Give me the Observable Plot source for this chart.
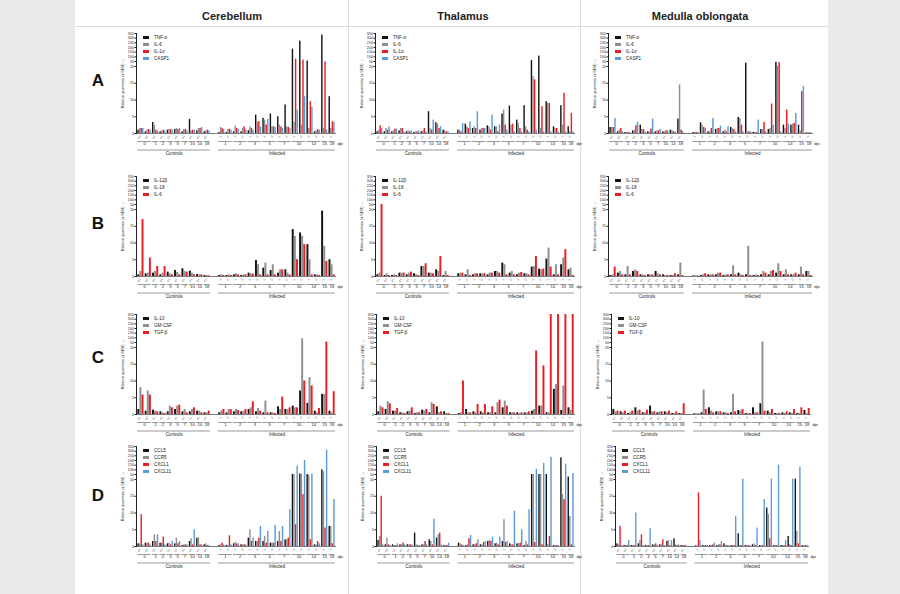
<!DOCTYPE html>
<html><head><meta charset="utf-8">
<script src="https://cdn.jsdelivr.net/npm/d3@7"></script>
<script src="https://cdn.jsdelivr.net/npm/@observablehq/plot@0.6"></script>
<style>
body{margin:0;background:#eaeaea;width:900px;height:594px;overflow:hidden;position:relative;font-family:"Liberation Sans",Arial,sans-serif}
#fig{position:absolute;left:75px;top:0;width:753px;height:594px;background:#fff}
.vline{position:absolute;top:0;width:1px;height:594px;background:#dcdcdc}
.hline{position:absolute;left:75px;top:26px;width:753px;height:1px;background:#dcdcdc}
.title{position:absolute;top:10px;font-weight:bold;font-size:11px;width:200px;text-align:center;color:#222}
.row{position:absolute;font-weight:bold;font-size:17px;color:#111;transform:translate(-50%,-50%)}
.panel{position:absolute}
.legend{position:absolute;font-size:4.6px;color:#222}
.legend div{display:flex;align-items:center;height:7px}
.sw{width:6px;height:3px;margin-right:5px}
</style></head><body>
<div id="fig"></div>
<div class="vline" style="left:348px"></div>
<div class="vline" style="left:580px"></div>
<div class="hline"></div>
<script>
// ---- sample structure ----
const sampleLabels = ["c1","c2","c1","c1","c1","c1","c1","c1","c1","c1",
  "i1","i2","i1","i2","i1","i2","i1","i2","i1","i2","i1","i2","i1","i2","i1","i1"];
const controlDays = ["0","1","2","3","5","7","10","14","18"];
const controlCounts = [2,1,1,1,1,1,1,1,1];
const infectedDays = ["1","2","3","5","7","10","14","15","18"];
const infectedCounts = [2,2,2,2,2,2,2,1,1];
const yTicks = [0,5,10,15,20,50,100,150,200,250,300,350];
const tissues = ["Cerebellum","Thalamus","Medulla oblongata"];
const rowLetters = ["A","B","C","D"];

// ---- series ----
const namesA = ["TNF-α","IL-6","IL-1α","CASP1"];
const namesB = ["IL-12β","IL-18","IL-6"];
const namesC = ["IL-10","GM-CSF","TGF-β"];
const namesD = ["CCL5","CCR5","CXCL1","CXCL11"];
const colors4 = ["#141414","#8f8f8f","#ea1c24","#5b9bd8"];
const colors3 = ["#141414","#8f8f8f","#ea1c24"];

// ---- values (26 samples: 10 controls, 16 infected) ----
const cerebellumA = [
 [1,0.5,3.3,0.5,1,1.2,0.5,4.2,0.8,0.5, 0.3,0.3,0.5,0.5,0.8,5.5,4.5,5.8,5,8.5, 182,268,55,0.5,333,11],
 [1.5,1,2.5,0.7,1.2,1.5,1.2,0.8,1.5,0.8, 1.8,1.2,2.2,1.5,2,3.5,4,2,2.5,2, 3.4,2.5,1.5,0.8,1.5,1.5],
 [1.5,1.2,1,1,1.2,1.2,1.2,1,1.5,1, 1.5,1.3,1.5,2,1.5,3.5,2.5,2,2,1.8, 75,65,9.5,1.2,48,3.5],
 [1.5,1,0.8,0.8,1,1.5,0.8,1,1.8,0.8, 1.2,1,1.2,1,1,2,4.2,1.8,1.5,1.5, 7,11,7.8,1,1,3.3]];
const cerebellumB = [
 [0.5,0.8,1,0.5,1.3,1.8,2.3,1.6,0.6,0.3, 0.3,0.3,0.5,0.3,1,4.8,2.5,1.8,1,2, 14,13,9.5,0.5,19.5,5],
 [1.5,1,1.5,1,0.8,1.2,1.5,1,0.5,0.3, 0.5,0.5,0.8,0.5,0.8,3.5,4,3.5,2,1, 12,12,5,0.5,9,3.5],
 [17,5.5,3,3,0.5,0.5,1.3,0.5,0.5,0.2, 0.3,0.3,0.5,0.5,0.7,0.5,0.5,0.5,2,0.5, 5,9.5,0.5,0.3,4.5,0.5]];
const cerebellumC = [
 [1.5,1,1.3,0.8,0.8,1.5,0.8,0.8,1,0.5, 0.5,0.5,0.8,0.8,1.5,0.8,0.5,0.5,2.3,1.5, 2.5,7,3.3,1,6,1],
 [8,7,1,0.5,2.5,2.5,1.5,1.5,1,0.5, 1,1.5,1.5,1,2,1.8,4,0.5,1.5,1.5, 2,90,11,0.5,6,0.5],
 [5.8,5.8,0.8,0.3,2,2.8,0.5,2,0.5,1, 1.5,1.5,1.2,1.5,3.8,1,0.5,0.3,5.2,2, 2,10,8.5,1.8,55,6.8]];
const cerebellumD = [
 [0.8,1,1.5,1,0.8,0.8,0.3,1.5,2.5,0.5, 0.3,0.3,0.8,0.5,2.5,1.5,1.5,1,1.5,2, 50,55,50,0.5,100,6],
 [0.8,1,3.5,1,1,2.5,0.5,2.3,2.5,0.8, 0.5,0.3,1.3,0.5,5,1.5,3,1,4.5,2, 50,55,45,0.5,80,6],
 [9.5,1,1.5,2.8,0.5,0.8,0.5,0.5,0.5,0.3, 1,3.2,0.8,0.5,1.5,2.5,1,1,1.5,2.5, 6.5,15.5,2,1.5,5.5,0.8],
 [0.5,0.5,3.5,0.5,1.5,1.5,0.5,5,0.5,0.3, 0.5,0.5,0.8,0.5,2.5,6,4.5,6.3,6,11, 140,200,55,0.8,310,14]];
const thalamusA = [
 [0.5,0.5,0.5,0.8,0.5,0.3,0.5,6.5,3.2,1, 1,2.8,1.5,1,2.3,2,5.8,8.2,4,8.3, 62,108,9.5,2,8.3,2],
 [1,1.5,0.8,1.5,0.8,0.5,0.8,1.5,2.8,0.8, 1,2,2,1.5,2,2,7,2.5,3,2, 17,1.5,9,1.5,2.5,0.5],
 [2.3,1,1.3,1.5,0.5,0.5,1.5,1,1.5,0.5, 0.5,1.5,1.5,1.5,1,0.5,2.5,2.8,1.5,1, 16,8,9,1.5,12,6],
 [1.5,2,1.3,0.5,0.8,0.8,0.5,4,2,0.5, 3,3.5,6.5,1.5,5.5,2.5,1,0.5,0.5,0.5, 1,0.5,0.5,0.5,0.5,0.5]];
const thalamusB = [
 [0.5,0.3,0.3,1,0.5,0.8,3,1,2,0.3, 0.8,0.5,0.5,0.8,0.5,1.5,4,1,0.5,0.8, 2.8,2.2,5.2,0.5,3.5,2],
 [1,0.8,0.5,1,1,0.5,3,1,1.5,1.5, 1,2,0.8,0.8,1,1.5,3.5,1.5,1,0.8, 3,2,8.5,3.5,5.5,2.5],
 [50,0.3,0.3,1,1.3,0.3,3.8,0.8,6,0.3, 1,0.3,0.8,0.8,1,1,0.5,0.5,1.2,0.5, 6,2.2,2.8,0.5,8,0.3]];
const thalamusC = [
 [0.8,1.5,1,0.5,0.8,0.3,1.3,0.5,2.3,0.8, 0.3,1.5,0.8,0.8,0.5,0.5,2,0.5,0.5,0.5, 1,2.5,0.5,7.5,1.2,2],
 [2.5,3.8,1,0.5,1,0.5,1,3.5,0.5,0.3, 0.5,0.5,0.5,0.5,0.5,3.5,4,0.5,0.3,0.5, 1.5,2.5,0.5,9,8.5,1.2],
 [2,3.2,1.8,0.3,2,0.5,1.5,3,0.8,0.3, 10,0.5,3,3,2.3,4.3,2.5,0.5,0.5,0.8, 19,14.5,350,350,350,350]];
const thalamusD = [
 [1.8,0.5,0.5,0.5,0.5,4,0.5,2,2.5,0.3, 1,0.3,0.5,0.5,1.5,0.8,1.5,0.8,0.8,0.3, 50,50,50,0.3,228,35],
 [3,2.5,0.3,0.5,0.5,0.5,0.5,1.5,3.5,0.3, 0.8,0.5,0.5,0.5,1.8,1,8,0.5,0.8,1.5, 50,50,0.5,0.3,15.5,9],
 [15,0.5,0.3,1,0.5,0.3,1.5,0.5,4,0.3, 0.5,2.3,0.8,1.2,1.5,0.5,1.2,0.5,1,0.5, 1.2,0.5,3,0.3,14,0.5],
 [0.5,0.3,0.8,0.5,0.5,0.3,0.5,8.2,0.5,1, 0.3,3.3,2,1.5,2.8,2.8,1.5,10.5,5,11, 105,169,235,0.3,161,60]];
const medullaA = [
 [1.8,0.5,0.3,0.8,2.5,0.5,0.5,0.5,1,4.3, 0.3,3.2,0.5,1.2,0.5,1.8,4.8,40,0.3,1.2, 1.2,45,2.5,2.5,2.5,0.2],
 [1.8,1,0.3,1,1.2,0.5,0.8,0.5,0.8,14.5, 0.3,2.5,0.5,1.5,1,1.5,4.5,0.5,0.3,1.2, 1.5,22,1.5,2.8,0.8,0.2],
 [1.8,1.5,0.3,2.3,1.2,1.3,0.8,0.8,0.5,1, 0.3,1.8,1.5,1.5,0.5,1.2,2.5,0.5,0.3,3.3, 8.8,43,7,3,12.5,0.2],
 [4.5,0.5,0.3,3.3,0.5,4.3,1.2,0.8,0.5,0.5, 0.3,1.5,4.5,2.2,2,0.5,0.5,0.5,4,0.5, 2.5,0.5,2.8,6,14,0.2]];
const medullaB = [
 [0.3,1,0.5,1.5,0.5,0.5,1.5,0.5,0.3,0.5, 0.2,0.3,0.5,0.5,0.3,0.5,1,0.5,0.3,0.5, 0.5,1,0.5,0.5,0.5,1.5],
 [0.5,1.5,3,2,0.5,0.5,0.8,0.3,0.3,4, 0.2,0.5,0.5,1,0.5,3.2,0.5,9,0.5,1.5, 1.5,3.8,2,0.5,2.8,1.5],
 [2.8,0.5,0.5,1.5,0.3,0.5,0.5,0.3,0.8,0.3, 0.2,0.8,0.5,1,0.5,0.5,0.3,0.3,0.3,1, 1.8,1.5,0.5,1,0.5,0.3]];
const medullaC = [
 [1.5,0.8,0.3,2,0.5,2.5,0.5,0.8,0.3,0.3, 0.2,0.5,2,0.8,0.5,0.5,1.2,0.3,2,3.2, 1,0.3,0.5,0.5,0.3,1.2],
 [0.8,0.5,0.5,1,0.5,0.8,0.8,0.5,0.3,0.3, 0.2,7.3,1,0.8,0.5,6,1,0.3,0.5,55, 0.5,0.3,0.3,0.3,0.3,0.3],
 [1,1,1,1.3,1.3,0.8,0.8,1,0.8,3.2, 0.2,1.5,0.5,0.8,0.3,0.8,1.5,0.3,0.5,1, 1.5,0.3,0.8,1.5,2,1.8]];
const medullaD = [
 [0.8,0.3,0.3,0.8,0.3,0.5,0.5,1.5,2.3,0.3, 0.2,0.3,0.3,0.3,0.8,0.3,3.8,0.3,0.5,0.3, 11.5,0.3,0.3,3,22,0.3],
 [0.5,0.3,0.3,1.8,0.3,0.5,0.5,1.8,0.5,0.3, 0.2,0.3,0.3,0.5,0.3,0.3,0.3,0.3,0.8,0.3, 9.5,0.3,0.3,0.5,4.5,0.3],
 [6,0.3,0.3,3.5,0.3,0.8,2,0.3,0.3,0.3, 16,0.3,0.5,0.5,0.3,0.3,0.3,0.3,0.3,0.3, 2.3,0.3,0.3,0.3,0.8,0.3],
 [0.3,1.8,10,0.3,5.3,0.3,0.3,1.8,0.5,0.3, 1.8,0.3,1,1.5,0.3,9,22,0.3,5.5,14, 22,150,1.8,22,130,0.3]];

// ---- layout ----
const panels = [
 {vals: cerebellumA, names: namesA, colors: colors4, ax: 136, top: 33, w: 200},
 {vals: thalamusA,   names: namesA, colors: colors4, ax: 375, top: 33, w: 200},
 {vals: medullaA,    names: namesA, colors: colors4, ax: 608, top: 33, w: 205},
 {vals: cerebellumB, names: namesB, colors: colors3, ax: 136, top: 176, w: 200},
 {vals: thalamusB,   names: namesB, colors: colors3, ax: 375, top: 176, w: 200},
 {vals: medullaB,    names: namesB, colors: colors3, ax: 608, top: 176, w: 205},
 {vals: cerebellumC, names: namesC, colors: colors3, ax: 136, top: 314, w: 200},
 {vals: thalamusC,   names: namesC, colors: colors3, ax: 376, top: 314, w: 199},
 {vals: medullaC,    names: namesC, colors: colors3, ax: 611, top: 314, w: 200},
 {vals: cerebellumD, names: namesD, colors: colors4, ax: 136, top: 446, w: 200},
 {vals: thalamusD,   names: namesD, colors: colors4, ax: 376, top: 446, w: 199},
 {vals: medullaD,    names: namesD, colors: colors4, ax: 615, top: 446, w: 194}
];

const nControls = controlCounts.reduce((a,b)=>a+b,0);
const posOf = i => i < nControls ? i : i + 1;
const sampleRows = sampleLabels.map((label, i) => ({pos: posOf(i), label}));
const groups = [];
let idx = 0;
controlDays.forEach((d,j) => { groups.push({label: d, p0: posOf(idx), p1: posOf(idx+controlCounts[j]-1)}); idx += controlCounts[j]; });
infectedDays.forEach((d,j) => { groups.push({label: d, p0: posOf(idx), p1: posOf(idx+infectedCounts[j]-1)}); idx += infectedCounts[j]; });
const lastPos = posOf(sampleLabels.length - 1);
const sections = [
 {label: "Controls", p0: 0, p1: posOf(nControls-1)},
 {label: "Infected", p0: posOf(nControls), p1: lastPos}
];

// broken y axis: 0–20 takes 67%, 20–50 takes 5%, 50–350 takes 28%
const brk = v => v <= 20 ? v * 67 / 20 : v <= 50 ? 67 + (v - 20) * 5 / 30 : 72 + (v - 50) * 28 / 300;
const tickLabel = t => { const v = yTicks.find(u => Math.abs(brk(u) - t) < 1e-6); return v === undefined ? "" : String(v); };

// titles & row letters
[[232,"Cerebellum"],[463,"Thalamus"],[700,"Medulla oblongata"]].forEach(([cx,t],i) => {
  const el = document.createElement("div"); el.className = "title";
  el.style.left = (cx-100)+"px"; el.textContent = tissues[i]; document.body.appendChild(el);
});
[81,224,358,496].forEach((cy,i) => {
  const el = document.createElement("div"); el.className = "row";
  el.style.left = "98px"; el.style.top = cy+"px"; el.textContent = rowLetters[i]; document.body.appendChild(el);
});

const ml = 26, mr = 14, mt = 5, mb = 28, ih = 100;
panels.forEach(p => {
  const k = p.names.length, span = 0.86, bw = span / k;
  const rows = [];
  p.vals.forEach((arr, s) => arr.forEach((v, i) => rows.push({pos: posOf(i), s, name: p.names[s], v})));
  const chart = Plot.plot({
    width: ml + p.w + mr, height: mt + ih + mb,
    marginLeft: ml, marginRight: mr, marginTop: mt, marginBottom: mb,
    style: {fontFamily: "Liberation Sans, Arial, sans-serif", fontSize: "3.7px", overflow: "visible", background: "transparent", color: "#222"},
    x: {domain: [-0.6, lastPos + 0.6], axis: null},
    y: {transform: brk, domain: [0, 100], ticks: yTicks.map(brk), tickFormat: tickLabel,
        tickSize: 1.5, tickPadding: 1, line: true,
        label: "Relative quantities (± SEM)", labelAnchor: "center", labelOffset: 15},
    color: {domain: p.names, range: p.colors},
    marks: [
      Plot.rect(rows, {x1: d => d.pos - span/2 + d.s*bw, x2: d => d.pos - span/2 + (d.s+1)*bw,
                       y1: 0, y2: "v", fill: "name", insetLeft: 0.08, insetRight: 0.08}),
      Plot.ruleY([0], {stroke: "#222", strokeWidth: 0.6}),
      Plot.text(sampleRows, {x: "pos", text: "label", frameAnchor: "bottom", dy: 3,
                             rotate: -50, textAnchor: "end", fontSize: 3, fill: "#444"}),
      Plot.ruleY(groups, {x1: d => d.p0 - 0.42, x2: d => d.p1 + 0.42, y: 0, dy: 8, stroke: "#333", strokeWidth: 0.5}),
      Plot.text(groups, {x: d => (d.p0 + d.p1)/2, text: "label", frameAnchor: "bottom", dy: 11.5, fontSize: 4.2}),
      Plot.ruleY(sections, {x1: d => d.p0 - 0.45, x2: d => d.p1 + 0.45, y: 0, dy: 16.5, stroke: "#333", strokeWidth: 0.5}),
      Plot.text(sections, {x: d => (d.p0 + d.p1)/2, text: "label", frameAnchor: "bottom", dy: 21, fontSize: 4.5}),
      Plot.text([{pos: lastPos}], {x: "pos", text: () => "dpi", frameAnchor: "bottom", dx: 8, dy: 11.5, fontSize: 4})
    ]
  });
  const wrap = document.createElement("div");
  wrap.className = "panel";
  wrap.style.left = (p.ax - ml) + "px";
  wrap.style.top = (p.top - mt) + "px";
  wrap.appendChild(chart);
  document.body.appendChild(wrap);
  const lg = document.createElement("div");
  lg.className = "legend";
  lg.style.left = (p.ax + 7) + "px";
  lg.style.top = (p.top + 1) + "px";
  p.names.forEach((n, i) => {
    const it = document.createElement("div");
    const sw = document.createElement("span"); sw.className = "sw"; sw.style.background = p.colors[i];
    const tx = document.createElement("span"); tx.textContent = n;
    it.appendChild(sw); it.appendChild(tx); lg.appendChild(it);
  });
  document.body.appendChild(lg);
});
</script>
</body></html>
